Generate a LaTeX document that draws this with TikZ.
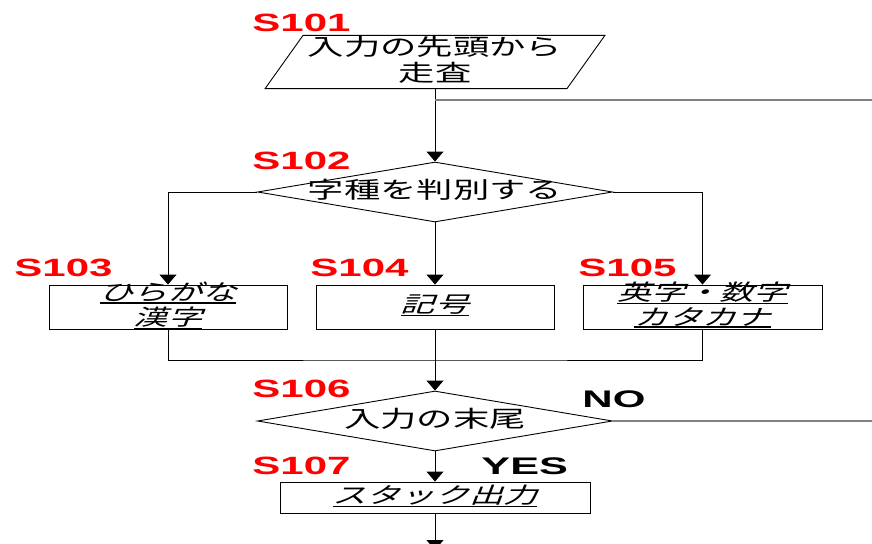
\documentclass[tikz,border=0pt]{standalone}
\usepackage{fontspec}
\usepackage{graphicx}
\setmainfont{Liberation Sans}
\newfontfamily\jpfont{Noto Sans CJK JP}
\newfontfamily\jpifont{Noto Sans CJK JP}[FakeSlant=0.25]
\usetikzlibrary{shapes.geometric,arrows.meta}
\newcommand\jptext[1]{\scalebox{1.58}[1]{\fontsize{23}{23}\selectfont\jpfont\begin{tabular}{@{}c@{}}#1\end{tabular}}}
\newcommand\jpitext[1]{\scalebox{1.55}[1]{\fontsize{22}{22}\selectfont\jpifont\begin{tabular}{@{}c@{}}#1\end{tabular}}}
\newcommand\thickul[1]{\leavevmode\vtop{\hbox{#1}\kern0.3pt\hrule height 1.5pt}}
\newcommand\steplabel[1]{\scalebox{1.68}[1]{\fontsize{25}{25}\selectfont\bfseries #1}}
\newcommand\answerlabel[2]{\scalebox{#1}[1]{\fontsize{24}{24}\selectfont\bfseries #2}}
\begin{document}
\begin{tikzpicture}[x=1pt,y=-1pt,line width=0.9pt,
  stepbox/.style={draw,rectangle,inner sep=0pt,minimum height=44pt},
  decision/.style={draw,diamond,inner sep=0pt,minimum width=355pt,minimum height=60pt},
  steplbl/.style={text=red,anchor=base west,inner sep=0pt},
  anslbl/.style={text=black,anchor=base west,inner sep=0pt},
  txt/.style={inner sep=0pt},
  flow/.style={draw,-{Triangle[width=17pt,length=10pt]}},
  loopline/.style={draw=gray,line width=1.2pt}]
\path[use as bounding box,clip] (0,0) rectangle (872,543);

% S101 parallelogram
\node[txt,minimum width=301pt,minimum height=44pt] (s101) at (435,62) {\jptext{入力の先頭から\\走査}};
\draw ([xshift=19pt]s101.north west) -- ([xshift=19pt]s101.north east)
  -- ([xshift=-19pt]s101.south east) -- ([xshift=-19pt]s101.south west) -- cycle;

% S102 decision
\node[decision] (s102) at (435,192) {};
\node[txt] (s102t) at (s102.center) {\jptext{字種を判別する}};

% S103-S105 boxes
\node[stepbox,minimum width=238pt] (s103) at (168,307) {};
\node[txt] (s103t) at (s103.center) {\jpitext{\thickul{ひらがな}\\\thickul{漢字}}};
\node[stepbox,minimum width=238pt] (s104) at (435,307) {};
\node[txt] (s104t) at (s104.center) {\jpitext{\thickul{記号}}};
\node[stepbox,minimum width=239pt] (s105) at (702.5,307) {};
\node[txt] (s105t) at (s105.center) {\jpitext{\thickul{英字・数字}\\\thickul{カタカナ}}};

% S106 decision
\node[decision] (s106) at (435,421) {};
\node[txt] (s106t) at (s106.center) {\jptext{入力の末尾}};

% S107 box
\node[stepbox,minimum width=310pt,minimum height=31pt] (s107) at (435,497.5) {};
\node[txt] (s107t) at (s107.center) {\jpitext{\thickul{スタック出力}}};

% labels
\node[steplbl] (l101) at (252,32) {\steplabel{S101}};
\node[steplbl] (l102) at (252,169) {\steplabel{S102}};
\node[steplbl] (l103) at (14,276) {\steplabel{S103}};
\node[steplbl] (l104) at (310,276) {\steplabel{S104}};
\node[steplbl] (l105) at (578,276) {\steplabel{S105}};
\node[steplbl] (l106) at (252,397) {\steplabel{S106}};
\node[steplbl] (l107) at (252,474) {\steplabel{S107}};
\node[anslbl] (lno) at (582,407) {\answerlabel{1.75}{NO}};
\node[anslbl] (lyes) at (481,474) {\answerlabel{1.8}{YES}};

% coordinates
\coordinate (loopin) at (872,100);
\coordinate (merge) at (435,360);
\coordinate (noout) at (872,421);
\coordinate (endpt) at (435,550);

% connectors
\draw[flow] (s101.south) -- (s102.north);
\draw[loopline] (loopin) -- (loopin -| s102.north);
\draw[flow] (s102.west) -| (s103.north);
\draw[flow] (s102.south) -- (s104.north);
\draw[flow] (s102.east) -| (s105.north);
\draw (s103.south) |- (merge) -| (s105.south);
\draw[flow] (s104.south) -- (s106.north);
\draw[loopline] (s106.east) -- (noout);
\draw[flow] (s106.south) -- (s107.north);
\draw[flow] (s107.south) -- (endpt);
\end{tikzpicture}
\end{document}
